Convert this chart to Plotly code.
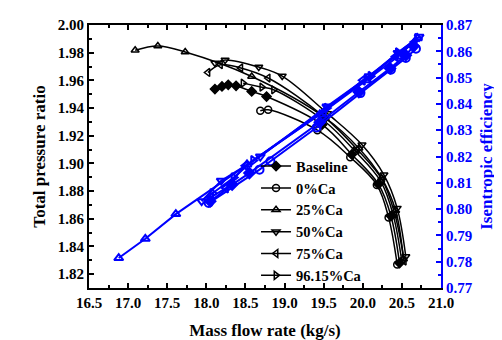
import plotly.graph_objects as go

# ---- data: total pressure ratio (black) ----
names = ["Baseline", "0%Ca", "25%Ca", "50%Ca", "75%Ca", "96.15%Ca"]
symbols_open = ["diamond", "circle-open", "triangle-up-open", "triangle-down-open",
                "triangle-left-open", "triangle-right-open"]

pr_x_base = [18.11, 18.20, 18.28, 18.38, 18.58, 18.77, 19.48, 19.86, 20.20, 20.36, 20.47]
pr_y_base = [1.9537, 1.9556, 1.9568, 1.9561, 1.9520, 1.9483, 1.928, 1.9065, 1.885, 1.862, 1.828]

pr_x_0 = [18.69, 18.79, 19.42, 19.84, 20.18, 20.33, 20.44]
pr_y_0 = [1.9380, 1.9387, 1.924, 1.9045, 1.8845, 1.861, 1.827]

pr_x_25 = [17.09, 17.38, 17.73, 18.58, 19.52, 19.95, 20.24, 20.42, 20.52]
pr_y_25 = [1.9817, 1.9848, 1.9805, 1.9628, 1.933, 1.911, 1.8895, 1.866, 1.831]

pr_x_50 = [18.11, 18.24, 18.67, 18.97, 19.55, 19.99, 20.27, 20.44, 20.55]
pr_y_50 = [1.9725, 1.9747, 1.9696, 1.9631, 1.936, 1.9135, 1.8918, 1.8677, 1.8327]

pr_x_75 = [18.02, 18.18, 18.44, 18.79, 19.50, 19.93, 20.25, 20.41, 20.53]
pr_y_75 = [1.9657, 1.9713, 1.9690, 1.9617, 1.934, 1.910, 1.888, 1.8633, 1.8295]

pr_x_96 = [18.47, 18.71, 18.86, 19.50, 19.90, 20.23, 20.39, 20.50]
pr_y_96 = [1.9580, 1.9551, 1.9532, 1.931, 1.909, 1.887, 1.8625, 1.829]

# ---- data: isentropic efficiency (blue) ----
ef_x_base = [18.05, 18.33, 18.55, 19.45, 19.95, 20.35, 20.55, 20.65]
ef_y_base = [0.8030, 0.8093, 0.8137, 0.8330, 0.8445, 0.8535, 0.8585, 0.8620]

ef_x_0 = [18.03, 18.68, 18.82, 19.41, 19.97, 20.36, 20.55, 20.68]
ef_y_0 = [0.8023, 0.8150, 0.8182, 0.8310, 0.8441, 0.8530, 0.8575, 0.8610]

ef_x_25 = [16.88, 17.22, 17.61, 18.52, 19.45, 20.05, 20.45, 20.70]
ef_y_25 = [0.7814, 0.7887, 0.7981, 0.8170, 0.8360, 0.8490, 0.8580, 0.8650]

ef_x_50 = [17.94, 18.19, 18.69, 19.54, 20.08, 20.45, 20.72]
ef_y_50 = [0.8030, 0.8108, 0.8200, 0.8390, 0.8505, 0.8594, 0.8655]

ef_x_75 = [18.06, 18.25, 18.50, 19.50, 20.00, 20.42, 20.66]
ef_y_75 = [0.8045, 0.8080, 0.8165, 0.8370, 0.8490, 0.8580, 0.8635]

ef_x_96 = [18.08, 18.35, 18.60, 19.54, 20.10, 20.45, 20.70]
ef_y_96 = [0.8060, 0.8120, 0.8185, 0.8384, 0.8505, 0.8595, 0.8650]

pr_sets = [(pr_x_base, pr_y_base), (pr_x_0, pr_y_0), (pr_x_25, pr_y_25),
           (pr_x_50, pr_y_50), (pr_x_75, pr_y_75), (pr_x_96, pr_y_96)]
ef_sets = [(ef_x_base, ef_y_base), (ef_x_0, ef_y_0), (ef_x_25, ef_y_25),
           (ef_x_50, ef_y_50), (ef_x_75, ef_y_75), (ef_x_96, ef_y_96)]

x_ticks = [16.5, 17.0, 17.5, 18.0, 18.5, 19.0, 19.5, 20.0, 20.5, 21.0]

FONT = "Liberation Serif, Times New Roman, serif"
BLUE = "#0000ff"

fig = go.Figure()

for i, (name, sym) in enumerate(zip(names, symbols_open)):
    ex, ey = ef_sets[i]
    fig.add_trace(go.Scatter(
        x=ex, y=ey, yaxis="y2", mode="lines+markers", showlegend=False,
        line=dict(color=BLUE, width=2),
        marker=dict(symbol=sym, size=8, color=BLUE, line=dict(color=BLUE, width=2)),
    ))

for i, (name, sym) in enumerate(zip(names, symbols_open)):
    px, py = pr_sets[i]
    fig.add_trace(go.Scatter(
        x=px, y=py, mode="lines+markers", name=name,
        line=dict(color="black", width=1.5, shape="spline"),
        marker=dict(symbol=sym, size=7, color="black", line=dict(color="black", width=1.5)),
    ))

fig.update_layout(
    width=502, height=340,
    margin=dict(l=81, r=69, t=17, b=60),
    paper_bgcolor="white", plot_bgcolor="white",
    font=dict(family=FONT, size=15, color="black", weight="bold"),
    showlegend=True,
    legend=dict(x=0.4745, y=0.524, xanchor="left", yanchor="top",
                bgcolor="rgba(0,0,0,0)", borderwidth=0,
                font=dict(family=FONT, size=14.5, color="black", weight="bold"),
                traceorder="normal", itemwidth=30),
    xaxis=dict(
        range=[16.5, 21.0], tickvals=x_ticks, tickformat=".1f",
        ticks="inside", ticklen=5, tickwidth=1.5, tickcolor="black",
        minor=dict(ticks="inside", ticklen=3, dtick=0.25, tickcolor="black", tickwidth=1.5),
        showline=True, linecolor="black", linewidth=2, mirror="ticks",
        showgrid=False, zeroline=False, automargin=False,
        title=dict(text="Mass flow rate (kg/s)", font=dict(size=17, family=FONT, weight="bold"), standoff=14),
        tickfont=dict(size=15, family=FONT, weight="bold"),
    ),
    yaxis=dict(
        range=[1.81, 2.00], tick0=1.82, dtick=0.02, tickformat=".2f",
        ticks="inside", ticklen=5, tickwidth=1.5, tickcolor="black",
        minor=dict(ticks="inside", ticklen=3, dtick=0.01, tickcolor="black", tickwidth=1.5),
        showline=True, linecolor="black", linewidth=2,
        showgrid=False, zeroline=False, automargin=False,
        title=dict(text="Total pressure ratio", font=dict(size=17, family=FONT, weight="bold"), standoff=8),
        tickfont=dict(size=15, family=FONT, weight="bold"),
    ),
    yaxis2=dict(
        overlaying="y", side="right", anchor="x",
        range=[0.77, 0.87], tick0=0.77, dtick=0.01, tickformat=".2f",
        ticks="inside", ticklen=5, tickwidth=1.5, tickcolor=BLUE,
        minor=dict(ticks="inside", ticklen=3, dtick=0.005, tickcolor=BLUE, tickwidth=1.5),
        showline=True, linecolor=BLUE, linewidth=2,
        showgrid=False, zeroline=False, automargin=False,
        title=dict(text="Isentropic efficiency", font=dict(size=17, family=FONT, color=BLUE, weight="bold"), standoff=8),
        tickfont=dict(size=15, family=FONT, color=BLUE, weight="bold"),
    ),
)

fig.write_html("out.html")
